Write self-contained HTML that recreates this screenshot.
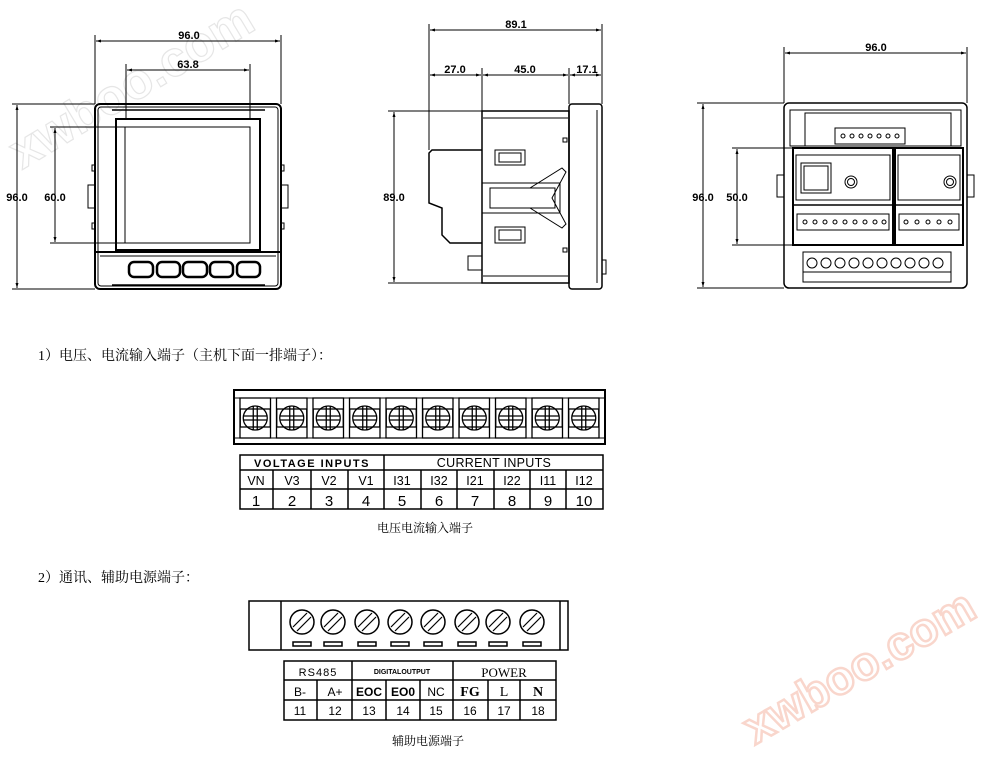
<!DOCTYPE html>
<html><head><meta charset="utf-8"><style>
html,body{margin:0;padding:0;background:#fff;}
svg{display:block;}
.t{font-family:"Liberation Sans",sans-serif;fill:#000;}
.cjk{font-family:"Liberation Serif","Noto Serif CJK SC","Noto Sans CJK SC",serif;fill:#000;}
</style></head><body>
<svg width="1000" height="760" viewBox="0 0 1000 760" xmlns="http://www.w3.org/2000/svg">
<defs>
<marker id="a" viewBox="0 0 10 10" refX="10" refY="5" markerWidth="7" markerHeight="5" orient="auto-start-reverse"><path d="M0,2 L10,5 L0,8 z" fill="#000"/></marker>
</defs>
<!-- watermarks -->
<text x="0" y="0" transform="translate(22,170) rotate(-31)" font-family="Liberation Sans,sans-serif" font-weight="bold" font-size="50" fill="none" stroke="#e6e6e6" stroke-width="1.2">xwboo.com</text>
<text x="0" y="0" transform="translate(755,745) rotate(-30)" font-family="Liberation Sans,sans-serif" font-weight="bold" font-size="47" fill="#fff" stroke="#f9d6cc" stroke-width="2.5">xwboo.com</text>

<g stroke="#000" fill="none" stroke-width="1">
<!-- FRONT VIEW -->
<line x1="95" y1="35" x2="95" y2="104"/><line x1="281" y1="35" x2="281" y2="104"/>
<line x1="96" y1="41" x2="280" y2="41" marker-start="url(#a)" marker-end="url(#a)"/>
<line x1="126" y1="64" x2="126" y2="119"/><line x1="250" y1="64" x2="250" y2="119"/>
<line x1="127" y1="70" x2="249" y2="70" marker-start="url(#a)" marker-end="url(#a)"/>
<line x1="12" y1="104" x2="95" y2="104"/><line x1="12" y1="289" x2="95" y2="289"/>
<line x1="17" y1="105" x2="17" y2="288" marker-start="url(#a)" marker-end="url(#a)"/>
<line x1="50" y1="127" x2="125" y2="127"/><line x1="50" y1="243" x2="125" y2="243"/>
<line x1="55" y1="128" x2="55" y2="242" marker-start="url(#a)" marker-end="url(#a)"/>
<rect x="95" y="104" width="186" height="185" rx="5" stroke-width="2"/>
<rect x="98" y="107" width="180" height="179" rx="3"/>
<line x1="112" y1="110" x2="265" y2="110" stroke-width="1.5"/>
<rect x="116" y="119" width="144" height="131" stroke-width="2"/>
<rect x="125" y="127" width="125" height="116"/>
<line x1="96" y1="252" x2="280" y2="252" stroke-width="2"/>
<line x1="100" y1="256" x2="276" y2="256"/>
<rect x="129" y="262" width="24" height="15" rx="5" stroke-width="2.5"/>
<rect x="157" y="262" width="23" height="15" rx="5" stroke-width="2.5"/>
<rect x="183" y="262" width="24" height="15" rx="5" stroke-width="2.5"/>
<rect x="210" y="262" width="23" height="15" rx="5" stroke-width="2.5"/>
<rect x="237" y="262" width="23" height="15" rx="5" stroke-width="2.5"/>
<line x1="112" y1="285" x2="265" y2="285" stroke-width="1.5"/>
<rect x="88" y="185" width="7" height="23"/><rect x="281" y="185" width="7" height="23"/>
<rect x="92" y="165" width="3" height="6"/><rect x="92" y="223" width="3" height="6"/>
<rect x="281" y="165" width="3" height="6"/><rect x="281" y="223" width="3" height="6"/>

<!-- SIDE VIEW -->
<line x1="429" y1="24" x2="429" y2="150"/><line x1="602" y1="24" x2="602" y2="104"/>
<line x1="430" y1="30" x2="601" y2="30" marker-start="url(#a)" marker-end="url(#a)"/>
<line x1="482" y1="68" x2="482" y2="111"/><line x1="569" y1="68" x2="569" y2="104"/>
<line x1="430" y1="75" x2="481" y2="75" marker-start="url(#a)" marker-end="url(#a)"/>
<line x1="483" y1="75" x2="568" y2="75" marker-start="url(#a)" marker-end="url(#a)"/>
<line x1="570" y1="75" x2="601" y2="75" marker-start="url(#a)" marker-end="url(#a)"/>
<line x1="388" y1="111" x2="482" y2="111"/><line x1="388" y1="283" x2="569" y2="283"/>
<line x1="394" y1="112" x2="394" y2="282" marker-start="url(#a)" marker-end="url(#a)"/>
<rect x="482" y="111" width="87" height="172" stroke-width="1.5"/>
<line x1="483" y1="118" x2="568" y2="118"/><line x1="483" y1="276" x2="568" y2="276"/>
<path d="M482,150 L432,150 L429,153 L429,203 L442,208 L442,235 L450,243 L482,243" stroke-width="1.5"/>
<rect x="468" y="256" width="14" height="14"/>
<rect x="569" y="104" width="33" height="185" rx="3" stroke-width="1.5"/>
<line x1="597" y1="110" x2="597" y2="283"/>
<rect x="602" y="260" width="4" height="14"/>
<rect x="495" y="150" width="30" height="15"/><rect x="499" y="153" width="22" height="9"/>
<rect x="495" y="227" width="30" height="16"/><rect x="499" y="230" width="22" height="10"/>
<rect x="482" y="183" width="78" height="30"/>
<rect x="490" y="188" width="65" height="20"/>
<path d="M530,188 L562,168 L566,172 L552,198 L566,224 L562,228 L530,208"/>
<rect x="563" y="138" width="4" height="4"/><rect x="563" y="248" width="4" height="4"/>

<!-- BACK VIEW -->
<line x1="784" y1="47" x2="784" y2="103"/><line x1="967" y1="47" x2="967" y2="103"/>
<line x1="785" y1="53" x2="966" y2="53" marker-start="url(#a)" marker-end="url(#a)"/>
<line x1="697" y1="103" x2="784" y2="103"/><line x1="697" y1="288" x2="784" y2="288"/>
<line x1="703" y1="104" x2="703" y2="287" marker-start="url(#a)" marker-end="url(#a)"/>
<line x1="732" y1="148" x2="793" y2="148"/><line x1="732" y1="245" x2="793" y2="245"/>
<line x1="737" y1="149" x2="737" y2="244" marker-start="url(#a)" marker-end="url(#a)"/>
<rect x="784" y="103" width="183" height="185" rx="5" stroke-width="1.5"/>
<rect x="790" y="110" width="171" height="36"/>
<rect x="805" y="113" width="146" height="33"/>
<rect x="835" y="128" width="70" height="16"/>
<g stroke-width="1"><circle cx="843" cy="136" r="2"/><circle cx="852" cy="136" r="2"/><circle cx="861" cy="136" r="2"/><circle cx="870" cy="136" r="2"/><circle cx="879" cy="136" r="2"/><circle cx="888" cy="136" r="2"/><circle cx="897" cy="136" r="2"/></g>
<rect x="793" y="148" width="100" height="97" stroke-width="2"/>
<rect x="895" y="148" width="68" height="97" stroke-width="2"/>
<rect x="796" y="155" width="94" height="45"/><rect x="898" y="155" width="62" height="45"/>
<rect x="801" y="163" width="30" height="30"/><rect x="804" y="166" width="24" height="24"/>
<circle cx="851" cy="182" r="6"/><circle cx="851" cy="182" r="3.5"/>
<circle cx="950" cy="182" r="6"/><circle cx="950" cy="182" r="3.5"/>
<line x1="793" y1="205" x2="963" y2="205" stroke-width="1.5"/>
<rect x="797" y="214" width="92" height="16"/><rect x="899" y="214" width="60" height="16"/>
<g><circle cx="805" cy="222" r="2"/><circle cx="815" cy="222" r="2"/><circle cx="825" cy="222" r="2"/><circle cx="835" cy="222" r="2"/><circle cx="845" cy="222" r="2"/><circle cx="855" cy="222" r="2"/><circle cx="865" cy="222" r="2"/><circle cx="875" cy="222" r="2"/><circle cx="884" cy="222" r="2"/>
<circle cx="906" cy="222" r="2"/><circle cx="917" cy="222" r="2"/><circle cx="928" cy="222" r="2"/><circle cx="939" cy="222" r="2"/><circle cx="950" cy="222" r="2"/></g>
<rect x="777" y="175" width="7" height="22"/><rect x="967" y="175" width="7" height="22"/>
<rect x="803" y="252" width="148" height="30"/>
<g><circle cx="812" cy="263" r="5"/><circle cx="826" cy="263" r="5"/><circle cx="840" cy="263" r="5"/><circle cx="854" cy="263" r="5"/><circle cx="868" cy="263" r="5"/><circle cx="882" cy="263" r="5"/><circle cx="896" cy="263" r="5"/><circle cx="910" cy="263" r="5"/><circle cx="924" cy="263" r="5"/><circle cx="938" cy="263" r="5"/></g>
<line x1="803" y1="272" x2="951" y2="272"/>

<!-- TERMINAL BLOCK 1 -->
<rect x="234" y="390" width="371" height="54" stroke-width="2"/>
<line x1="234" y1="398" x2="605" y2="398"/>
<line x1="234" y1="438" x2="605" y2="438"/>
</g>

<g id="tb1" stroke="#000" fill="none" stroke-width="1.3"></g>

<g stroke="#000" fill="none" stroke-width="1.5">
<rect x="240" y="455" width="363" height="54"/>
<line x1="240" y1="470" x2="603" y2="470"/><line x1="240" y1="489" x2="603" y2="489"/>
<line x1="384" y1="455" x2="384" y2="509"/>
<line x1="273" y1="470" x2="273" y2="509"/><line x1="311" y1="470" x2="311" y2="509"/><line x1="348" y1="470" x2="348" y2="509"/>
<line x1="421" y1="470" x2="421" y2="509"/><line x1="457" y1="470" x2="457" y2="509"/><line x1="494" y1="470" x2="494" y2="509"/><line x1="530" y1="470" x2="530" y2="509"/><line x1="566" y1="470" x2="566" y2="509"/>

<!-- TERMINAL BLOCK 2 -->
<rect x="249" y="601" width="319" height="49"/>
<line x1="281" y1="601" x2="281" y2="650"/><line x1="560" y1="601" x2="560" y2="650"/>
</g>
<g id="tb2" stroke="#000" fill="none" stroke-width="1.2"></g>
<g stroke="#000" fill="none" stroke-width="1.5">
<rect x="284" y="661" width="272" height="59"/>
<line x1="284" y1="680" x2="556" y2="680"/><line x1="284" y1="700" x2="556" y2="700"/>
<line x1="352" y1="661" x2="352" y2="720"/><line x1="453" y1="661" x2="453" y2="720"/>
<line x1="317" y1="680" x2="317" y2="720"/><line x1="386" y1="680" x2="386" y2="720"/><line x1="420" y1="680" x2="420" y2="720"/><line x1="488" y1="680" x2="488" y2="720"/><line x1="520" y1="680" x2="520" y2="720"/>
</g>

<!-- DIMENSION TEXT -->
<g class="t" font-size="11" font-weight="bold">
<text x="189" y="39" text-anchor="middle">96.0</text>
<text x="188" y="68" text-anchor="middle">63.8</text>
<text x="17" y="201" text-anchor="middle">96.0</text>
<text x="55" y="201" text-anchor="middle">60.0</text>
<text x="516" y="28" text-anchor="middle">89.1</text>
<text x="455" y="73" text-anchor="middle">27.0</text>
<text x="525" y="73" text-anchor="middle">45.0</text>
<text x="587" y="73" text-anchor="middle">17.1</text>
<text x="394" y="201" text-anchor="middle">89.0</text>
<text x="876" y="51" text-anchor="middle">96.0</text>
<text x="703" y="201" text-anchor="middle">96.0</text>
<text x="737" y="201" text-anchor="middle">50.0</text>
</g>

<text class="cjk" x="38" y="360" font-size="14">1）电压、电流输入端子（主机下面一排端子）：</text>
<text class="cjk" x="38" y="582" font-size="14">2）通讯、辅助电源端子：</text>
<text class="cjk" x="425" y="532" font-size="12" text-anchor="middle">电压电流输入端子</text>
<text class="cjk" x="428" y="745" font-size="12" text-anchor="middle">辅助电源端子</text>

<g class="t" text-anchor="middle">
<text x="312" y="467" font-size="11" font-weight="bold" letter-spacing="1.5">VOLTAGE  INPUTS</text>
<text x="494" y="467" font-size="12.5" letter-spacing="0.3">CURRENT INPUTS</text>
<g font-size="12.5">
<text x="256" y="485">VN</text><text x="292" y="485">V3</text><text x="329" y="485">V2</text><text x="366" y="485">V1</text>
<text x="402" y="485">I31</text><text x="439" y="485">I32</text><text x="475" y="485">I21</text><text x="512" y="485">I22</text><text x="548" y="485">I11</text><text x="584" y="485">I12</text>
</g>
<g font-size="15">
<text x="256" y="506">1</text><text x="292" y="506">2</text><text x="329" y="506">3</text><text x="366" y="506">4</text>
<text x="402" y="506">5</text><text x="439" y="506">6</text><text x="475" y="506">7</text><text x="512" y="506">8</text><text x="548" y="506">9</text><text x="584" y="506">10</text>
</g>
<text x="318" y="676" font-size="11" letter-spacing="1">RS485</text>
<text x="402" y="674" font-size="7" font-weight="bold">DIGITALOUTPUT</text>
<text x="504" y="677" font-family="Liberation Serif,serif" font-size="13">POWER</text>
<g font-size="12">
<text x="300" y="696">B-</text><text x="335" y="696">A+</text><text x="369" y="696" font-weight="bold">EOC</text><text x="403" y="696" font-weight="bold">EO0</text><text x="436" y="696">NC</text>
</g>
<g font-family="Liberation Serif,serif" font-size="14" font-weight="bold">
<text x="470" y="696">FG</text><text x="504" y="696" font-weight="normal">L</text><text x="538" y="696">N</text>
</g>
<g font-size="12">
<text x="300" y="715">11</text><text x="335" y="715">12</text><text x="369" y="715">13</text><text x="403" y="715">14</text><text x="436" y="715">15</text><text x="470" y="715">16</text><text x="504" y="715">17</text><text x="538" y="715">18</text>
</g>
</g>
</svg>
<script>
(function(){
var ns="http://www.w3.org/2000/svg";
function el(p,n,a){var e=document.createElementNS(ns,n);for(var k in a)e.setAttribute(k,a[k]);p.appendChild(e);return e;}
var g=document.getElementById("tb1");
var w=36.5,x0=238;
for(var i=0;i<10;i++){
 var x=x0+i*w;
 el(g,"rect",{x:x+2,y:398,width:w-6,height:40});
 var cx=x+2+(w-6)/2,cy=418;
 el(g,"circle",{cx:cx,cy:cy,r:12});
 el(g,"rect",{x:cx-15,y:cy-9,width:30,height:18});
 el(g,"line",{x1:cx-2,y1:cy-12,x2:cx-2,y2:cy+12});
 el(g,"line",{x1:cx+2,y1:cy-12,x2:cx+2,y2:cy+12});
 el(g,"line",{x1:cx-12,y1:cy-2,x2:cx+12,y2:cy-2});
 el(g,"line",{x1:cx-12,y1:cy+2,x2:cx+12,y2:cy+2});
}
var g2=document.getElementById("tb2");
var xs=[302,333,367,400,433,467,498,532];
xs.forEach(function(cx){
 var cy=622;
 el(g2,"circle",{cx:cx,cy:cy,r:12,"stroke-width":1.5});
 el(g2,"line",{x1:cx-9,y1:cy+5,x2:cx+5,y2:cy-9});
 el(g2,"line",{x1:cx-5,y1:cy+9,x2:cx+9,y2:cy-5});
 el(g2,"rect",{x:cx-9,y:642,width:18,height:4,"stroke-width":1.5});
});
})();
</script>
</body></html>
